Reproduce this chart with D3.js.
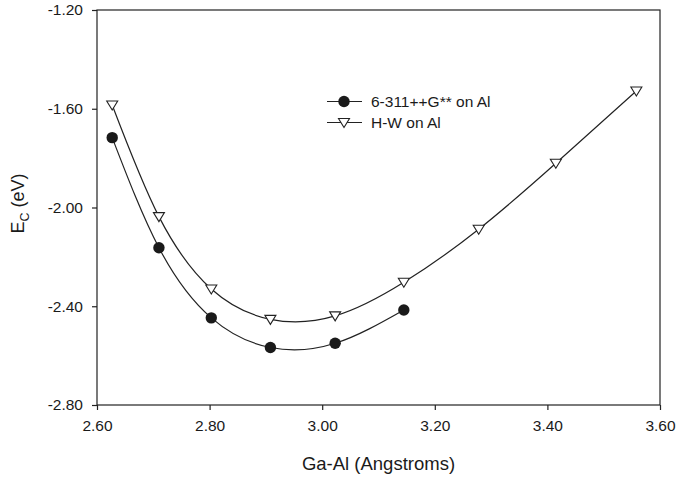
<!DOCTYPE html>
<html>
<head>
<meta charset="utf-8">
<script src="https://cdn.jsdelivr.net/npm/d3@7"></script>
<style>
  body { margin: 0; background: #fff; }
  text { font-family: "Liberation Sans", Arial, sans-serif; fill: #1a1a1a; }
</style>
</head>
<body>
<div id="grafica"></div>
<script>
  // datos
  const gaAl631 = [2.627, 2.710, 2.803, 2.908, 3.023, 3.145];
  const ec631 = [-1.717, -2.163, -2.447, -2.567, -2.550, -2.415];
  const gaAlHW = [2.627, 2.710, 2.803, 2.908, 3.023, 3.145, 3.278, 3.415, 3.558];
  const ecHW = [-1.585, -2.037, -2.330, -2.453, -2.439, -2.303, -2.088, -1.821, -1.528];
  const xTicks = [2.60, 2.80, 3.00, 3.20, 3.40, 3.60];
  const yTicks = [-1.20, -1.60, -2.00, -2.40, -2.80];
  const nombres = ["6-311++G** on Al", "H-W on Al"];

  const width = 676, height = 477;
  const margen = { left: 97, right: 16, top: 10, bottom: 72 };

  const svg = d3.select("#grafica")
    .append("svg")
    .attr("width", width)
    .attr("height", height);

  const x = d3.scaleLinear().domain([2.6, 3.6]).range([margen.left, width - margen.right]);
  const y = d3.scaleLinear().domain([-2.8, -1.2]).range([height - margen.bottom, margen.top]);

  // Caja
  svg.append("rect")
    .attr("x", x(2.6))
    .attr("y", y(-1.2))
    .attr("width", x(3.6) - x(2.6))
    .attr("height", y(-2.8) - y(-1.2))
    .attr("fill", "none")
    .attr("stroke", "#222")
    .attr("stroke-width", 1.2);

  // Ejes
  const ejeX = svg.append("g")
    .attr("transform", `translate(0,${y(-2.8)})`)
    .call(d3.axisBottom(x).tickValues(xTicks).tickFormat(d3.format(".2f")).tickSize(5).tickPadding(10));
  const ejeY = svg.append("g")
    .attr("transform", `translate(${x(2.6)},0)`)
    .call(d3.axisLeft(y).tickValues(yTicks).tickFormat(d => d3.format(".2f")(d).replace("−", "-")).tickSize(5).tickPadding(9));

  [ejeX, ejeY].forEach(g => {
    g.select(".domain").remove();
    g.selectAll("line").attr("stroke", "#222").attr("stroke-width", 1.2);
    g.selectAll("text").style("font-size", "15.5px").attr("fill", "#1a1a1a")
      .style("font-family", "'Liberation Sans', Arial, sans-serif");
  });

  // Titulos
  svg.append("text")
    .attr("x", (x(2.6) + x(3.6)) / 2)
    .attr("y", 470)
    .attr("text-anchor", "middle")
    .style("font-size", "18.5px")
    .text("Ga-Al (Angstroms)");

  const tituloY = svg.append("text")
    .attr("transform", `translate(24,${(y(-1.2) + y(-2.8)) / 2 - 4}) rotate(-90)`)
    .attr("text-anchor", "middle")
    .style("font-size", "18px");
  tituloY.append("tspan").text("E");
  tituloY.append("tspan").attr("dy", 5).style("font-size", "12.5px").text("C");
  tituloY.append("tspan").attr("dy", -5).text(" (eV)");

  // Curvas
  const linea = d3.line()
    .x(d => x(d[0]))
    .y(d => y(d[1]))
    .curve(d3.curveNatural);

  const datos631 = gaAl631.map((v, i) => [v, ec631[i]]);
  const datosHW = gaAlHW.map((v, i) => [v, ecHW[i]]);

  svg.append("path").attr("d", linea(datos631))
    .attr("fill", "none").attr("stroke", "#222").attr("stroke-width", 1.2);
  svg.append("path").attr("d", linea(datosHW))
    .attr("fill", "none").attr("stroke", "#222").attr("stroke-width", 1.2);

  const triangulo = "M -5.5,-4 L 5.5,-4 L 0,5 Z";

  svg.selectAll(".punto")
    .data(datos631)
    .enter()
    .append("circle")
    .attr("class", "punto")
    .attr("cx", d => x(d[0]))
    .attr("cy", d => y(d[1]))
    .attr("r", 5.7)
    .attr("fill", "#1a1a1a");

  svg.selectAll(".tri")
    .data(datosHW)
    .enter()
    .append("path")
    .attr("class", "tri")
    .attr("d", triangulo)
    .attr("transform", d => `translate(${x(d[0])},${y(d[1])})`)
    .attr("fill", "#fff")
    .attr("stroke", "#222")
    .attr("stroke-width", 1.1);

  // Leyenda
  const leyenda = svg.append("g").attr("transform", "translate(327,101.5)");
  nombres.forEach((n, i) => {
    const g = leyenda.append("g").attr("transform", `translate(0,${i * 21})`);
    g.append("line").attr("x1", 0).attr("x2", 35).attr("y1", 0).attr("y2", 0)
      .attr("stroke", "#222").attr("stroke-width", 1.2);
    if (i == 0) {
      g.append("circle").attr("cx", 17).attr("cy", 0).attr("r", 5.7).attr("fill", "#1a1a1a");
    } else {
      g.append("path").attr("d", triangulo).attr("transform", "translate(17,0)")
        .attr("fill", "#fff").attr("stroke", "#222").attr("stroke-width", 1.1);
    }
    g.append("text").attr("x", 44).attr("y", 5.5).style("font-size", "15.5px").text(n);
  });
</script>
</body>
</html>
